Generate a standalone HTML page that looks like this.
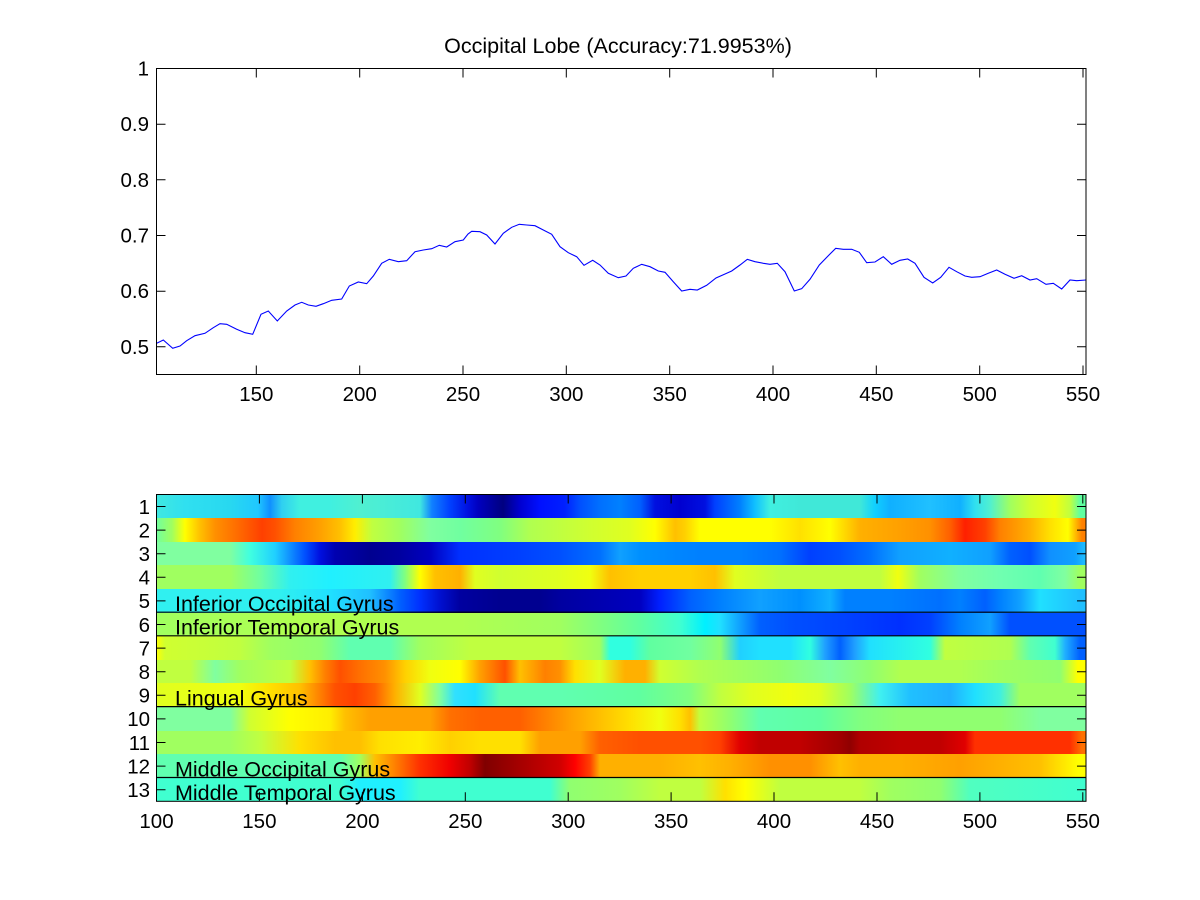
<!DOCTYPE html>
<html>
<head>
<meta charset="utf-8">
<style>
html,body{margin:0;padding:0;background:#fff;}
#wrap{position:relative;width:1200px;height:900px;overflow:hidden;background:#fff;}
#hm{position:absolute;left:156.5px;top:494.5px;width:929.5px;height:306.8px;overflow:hidden;}
#hm div{position:absolute;left:-156.5px;width:1200px;height:23.8px;}
svg{position:absolute;left:0;top:0;}
text{font-family:"Liberation Sans",Arial,sans-serif;fill:#000;}
</style>
</head>
<body>
<div id="wrap">
<div id="hm">
<div style="top:0px;background:linear-gradient(to right,#40e8e0 156px,#30e0f0 185px,#28d8f0 230px,#20c8ff 258px,#1090ff 270px,#30d0f0 282px,#40f0e0 300px,#40f0e0 330px,#50f0d0 360px,#40e8e0 420px,#1080ff 432px,#0040ff 450px,#0010e0 468px,#0000c0 478px,#000080 503px,#0000d0 520px,#0010ff 540px,#0020ff 565px,#0050ff 580px,#0070ff 600px,#0080ff 620px,#0060ff 640px,#0010e0 655px,#0000d0 680px,#0010e0 705px,#0040ff 715px,#0080ff 740px,#10c0ff 755px,#40f0e0 770px,#40e8d8 800px,#40e8d8 860px,#10d0ff 875px,#10b0ff 890px,#20c0ff 930px,#10b0ff 960px,#30e0f0 975px,#50f0d0 990px,#a0ff60 1010px,#d0ff30 1030px,#f0ff10 1055px,#c0ff40 1070px,#60ffa0 1080px)"></div>
<div style="top:23.6px;background:linear-gradient(to right,#70ffa0 156px,#a0ff60 172px,#ffff00 185px,#ffc000 200px,#ff9000 215px,#ff7000 235px,#ff4000 262px,#ff5000 275px,#ff8000 295px,#ffa000 320px,#ffc000 340px,#ffee00 355px,#c0ff40 372px,#a0ff60 400px,#80ffa0 430px,#70ffa0 460px,#80ff80 500px,#b0ff50 530px,#c0ff40 560px,#d0ff30 590px,#e0ff20 630px,#ffff00 655px,#ffc000 675px,#ffd000 685px,#ffff00 700px,#ffff00 770px,#ffe000 800px,#ffff00 830px,#ffb000 860px,#ffa000 900px,#ff9000 930px,#ff6000 950px,#ff2000 965px,#ff4000 985px,#ff8000 1000px,#ffb000 1030px,#ffe000 1050px,#ffff00 1068px,#ff8000 1082px)"></div>
<div style="top:47.2px;background:linear-gradient(to right,#80ffa0 156px,#80ffa0 230px,#40ffe0 250px,#20d0ff 275px,#1090ff 290px,#0050ff 305px,#0010e0 320px,#0000b0 335px,#000090 370px,#0000a0 400px,#0000c0 430px,#0030ff 460px,#0040ff 520px,#0050ff 560px,#0070ff 600px,#10a0ff 620px,#0090ff 640px,#0080ff 700px,#0080ff 740px,#0070ff 780px,#0040ff 810px,#0050ff 840px,#0070ff 870px,#10a0ff 900px,#10b0ff 950px,#10a0ff 990px,#0060ff 1010px,#0050ff 1030px,#1090ff 1050px,#10a0ff 1075px,#20c0ff 1086px)"></div>
<div style="top:70.8px;background:linear-gradient(to right,#a0ff60 156px,#a0ff60 230px,#70ffa0 260px,#30f0f0 290px,#20f0ff 330px,#30f0f0 390px,#80ff80 405px,#ffff00 420px,#ffc000 435px,#ffb000 460px,#e0ff20 475px,#d0ff30 500px,#e0ff20 560px,#f0ff10 590px,#ffc000 610px,#ffd000 640px,#ffd000 690px,#ffc000 715px,#e0ff20 735px,#c0ff40 780px,#c0ff40 880px,#f0ff10 898px,#a0ff60 920px,#80ffa0 960px,#70ffb0 1000px,#60ffb0 1040px,#80ffa0 1065px,#a0ff60 1080px)"></div>
<div style="top:94.4px;background:linear-gradient(to right,#30f0f0 156px,#30f0f0 280px,#20e0ff 330px,#20c0ff 370px,#1090ff 385px,#0060ff 400px,#0030ff 420px,#0010d0 440px,#0000a0 460px,#000090 500px,#000090 540px,#0000a0 560px,#0000b0 600px,#0000c0 640px,#0020ff 660px,#0060ff 690px,#0080ff 720px,#10a0ff 760px,#0090ff 800px,#10b0ff 830px,#0080ff 845px,#0080ff 890px,#0070ff 940px,#0080ff 960px,#0060ff 985px,#0080ff 1000px,#10a0ff 1020px,#20e0ff 1040px,#20d0ff 1060px,#20c0ff 1080px)"></div>
<div style="top:118px;background:linear-gradient(to right,#a0ff60 156px,#b0ff50 300px,#b0ff50 460px,#a0ff60 560px,#80ff80 600px,#60ffa0 640px,#40ffd0 680px,#00f0ff 705px,#20e0ff 720px,#10a0ff 740px,#0060ff 760px,#0050ff 790px,#0040ff 850px,#0030ff 900px,#0040ff 930px,#0080ff 960px,#10a0ff 990px,#0050ff 1010px,#0050ff 1086px)"></div>
<div style="top:141.6px;background:linear-gradient(to right,#ffff00 156px,#d0ff30 165px,#c0ff40 240px,#a0ff60 270px,#90ff70 320px,#60ffb0 350px,#60ffb0 390px,#a0ff60 420px,#c0ff40 470px,#c0ff40 560px,#a0ff60 600px,#30ffe0 610px,#30ffe0 630px,#60ffa0 650px,#70ffa0 690px,#90ff70 720px,#20d0ff 740px,#20e0ff 760px,#20e0ff 790px,#30ffe0 810px,#20a0ff 825px,#0060ff 840px,#20a0ff 855px,#20e0ff 870px,#30ffe0 930px,#c0ff40 945px,#b0ff50 1010px,#60ffb0 1030px,#40ffd0 1055px,#20b0ff 1065px,#0060ff 1080px)"></div>
<div style="top:165.2px;background:linear-gradient(to right,#c0ff40 156px,#c0ff40 190px,#80ffa0 215px,#a0ff60 240px,#c0ff40 290px,#ffc000 310px,#ff8000 325px,#ff5000 340px,#ff7000 360px,#ff9000 385px,#ffd000 405px,#f0ff10 430px,#ffff00 460px,#ffa000 480px,#ff7000 495px,#ff5000 505px,#ffc000 520px,#ff8000 545px,#ff9000 560px,#ffe000 575px,#e0ff20 600px,#ffb000 625px,#ffb000 645px,#d0ff30 660px,#b0ff50 700px,#a0ff60 740px,#90ff70 780px,#80ffa0 830px,#90ff70 870px,#b0ff50 900px,#b0ff50 960px,#a0ff60 1000px,#90ff70 1060px,#ffff00 1078px)"></div>
<div style="top:188.8px;background:linear-gradient(to right,#e0ff20 156px,#f0ff10 240px,#ffe000 270px,#ffc000 300px,#ff9000 315px,#ff5000 335px,#ff4000 355px,#ff6000 375px,#ffb000 395px,#e0ff20 420px,#80ffa0 440px,#30e0ff 455px,#20e0ff 475px,#60ffb0 500px,#60ffb0 560px,#60ffa0 640px,#80ff80 690px,#c0ff40 720px,#e0ff20 750px,#f0ff10 790px,#e0ff20 820px,#a0ff60 850px,#40f0f0 880px,#20c0ff 910px,#20b0ff 950px,#20e0ff 975px,#40f0e0 1000px,#a0ff60 1020px,#a0ff60 1086px)"></div>
<div style="top:212.4px;background:linear-gradient(to right,#80ffa0 156px,#80ffa0 230px,#d0ff30 250px,#ffff00 290px,#ffee00 330px,#ffc000 345px,#ffa000 370px,#ffa000 430px,#ff7000 450px,#ff6000 480px,#ff6000 520px,#ff8000 545px,#ffa000 570px,#ffc000 600px,#ffe000 630px,#f0ff10 660px,#ffe000 680px,#ffc000 690px,#c0ff40 700px,#90ff70 730px,#60ffb0 760px,#60ffa0 820px,#80ff80 860px,#90ff70 900px,#90ff70 1000px,#80ffa0 1040px,#80ffa0 1086px)"></div>
<div style="top:236px;background:linear-gradient(to right,#a0ff60 156px,#a0ff60 230px,#c0ff40 260px,#ffe000 300px,#ffc000 335px,#ffc000 360px,#ffe000 380px,#ffee00 420px,#ffd000 450px,#ffe000 480px,#ffe000 520px,#ffa000 540px,#ffa000 580px,#ff6000 600px,#ff5000 640px,#ff5000 700px,#ff4000 720px,#e00000 740px,#c00000 760px,#c00000 800px,#a00000 840px,#900000 850px,#b00000 860px,#c00000 900px,#c00000 940px,#e00000 965px,#ff3000 975px,#ff3000 1070px,#ff7000 1082px)"></div>
<div style="top:259.6px;background:linear-gradient(to right,#60ffb0 156px,#60ffb0 340px,#a0ff60 360px,#ffc000 375px,#ff8000 395px,#ff3000 420px,#f00000 450px,#c00000 470px,#800000 485px,#900000 500px,#b00000 530px,#d00000 560px,#ff0000 575px,#ff4000 590px,#ffb000 600px,#ffb000 660px,#ffc000 700px,#ffb000 730px,#ff9000 770px,#ff9000 810px,#ffc000 840px,#ffb000 860px,#ffb000 900px,#ffa000 960px,#ffb000 1000px,#ffc000 1040px,#ffff00 1078px)"></div>
<div style="top:283.2px;background:linear-gradient(to right,#40ffd0 156px,#40ffd0 340px,#20f0ff 360px,#20f0ff 400px,#40ffd0 420px,#40ffd0 550px,#90ff70 570px,#a0ff60 620px,#c0ff40 660px,#c0ff40 700px,#ffe000 725px,#ffff00 745px,#c0ff40 780px,#c0ff40 860px,#a0ff60 890px,#90ff70 940px,#50ffc0 970px,#40ffd0 1086px)"></div>
</div>

<svg width="1200" height="900" viewBox="0 0 1200 900" xmlns="http://www.w3.org/2000/svg">
<text x="618" y="53" font-size="21.5" text-anchor="middle">Occipital Lobe (Accuracy:71.9953%)</text>
<polyline fill="none" stroke="#0000ff" stroke-width="1.1" points="156.7,343.3 163.3,340 172.7,348.3 180,346 186.7,340.7 195,335.7 205,333.3 213.3,327.7 220,323.7 226.7,324.3 236.7,329.3 245,332.7 252.7,334.3 261,314.3 268.3,311 277.3,321 286.7,311 295,305 301.7,302.3 308.3,305 316,306.3 323.3,303.7 331.7,300.3 341.7,299 349.3,286 358.3,282 366.7,283.7 373.3,276 381.7,263.3 389.3,259.3 398.3,261.7 406.7,260.7 415,251.7 423.3,250 431.7,248.7 439.3,245.3 446.7,247 455,241.7 463.3,240 468,234 471.7,231.3 480,231.7 486.7,235 495,244 503.3,233.3 511.7,227.3 519.3,224.3 526.7,225 535,225.7 543.3,230 551.7,234.3 560,246.7 568.3,252.7 576.7,256.7 584,265.3 592.7,260.3 600,265 608.3,273.3 618.3,277.7 626,276 633.3,268.3 641.7,264.3 650,266.7 658.3,271 665,272.3 673.3,281.7 681.7,291 690,289.3 697.3,290 706.7,285.3 716,278 725,274 731.7,271 740,265 747.3,259.3 755,261.7 763.3,263.3 770,264.3 777.3,263.3 785,271.7 794.3,291 801.7,288.7 810,279.3 819.3,265 827.3,256.7 835.7,248.3 843.3,249.3 851.7,249.3 859.3,252.3 866.7,262.7 875,262 883.3,256.7 891.7,264.3 900,260.3 907.7,259 915,263.3 924,277.3 932.7,283 940.7,277.3 949,267.3 956.7,271.7 965,276 971.7,277.3 980,276.7 988.3,273.3 996.7,270 1005,274.3 1014,278.3 1021.7,275.7 1030,280 1036.7,278.7 1046,284.3 1053.3,283.3 1061.7,289 1070,280 1076.7,280.7 1086,280"/>
<rect x="156.5" y="68.5" width="929.5" height="306" fill="none" stroke="#000" stroke-width="1"/>
<g stroke="#000" stroke-width="1">
<path d="M156.5,68.5h9M156.5,124.2h9M156.5,179.8h9M156.5,235.5h9M156.5,291.2h9M156.5,346.8h9"/>
<path d="M1086,68.5h-9M1086,124.2h-9M1086,179.8h-9M1086,235.5h-9M1086,291.2h-9M1086,346.8h-9"/>
<path d="M256.3,374.5v-9M359.7,374.5v-9M463,374.5v-9M566.3,374.5v-9M669.7,374.5v-9M773,374.5v-9M876.3,374.5v-9M979.7,374.5v-9M1083,374.5v-9"/>
<path d="M256.3,68.5v9M359.7,68.5v9M463,68.5v9M566.3,68.5v9M669.7,68.5v9M773,68.5v9M876.3,68.5v9M979.7,68.5v9M1083,68.5v9"/>
</g>
<g font-size="20.5" text-anchor="end">
<text x="149" y="75.5">1</text>
<text x="149" y="131.2">0.9</text>
<text x="149" y="186.8">0.8</text>
<text x="149" y="242.5">0.7</text>
<text x="149" y="298.2">0.6</text>
<text x="149" y="353.8">0.5</text>
</g>
<g font-size="20.5" text-anchor="middle">
<text x="256.3" y="401">150</text>
<text x="359.7" y="401">200</text>
<text x="463" y="401">250</text>
<text x="566.3" y="401">300</text>
<text x="669.7" y="401">350</text>
<text x="773" y="401">400</text>
<text x="876.3" y="401">450</text>
<text x="979.7" y="401">500</text>
<text x="1083" y="401">550</text>
</g>

<g stroke="#000" stroke-width="1.2">
<path d="M156.5,612.2H1086M156.5,635.8H1086M156.5,706.6H1086M156.5,777.5H1086"/>
</g>
<rect x="156.5" y="494.5" width="929.5" height="306.8" fill="none" stroke="#000" stroke-width="1"/>
<g stroke="#000" stroke-width="1">
<path d="M156.5,506.5h9M156.5,530.1h9M156.5,553.7h9M156.5,577.3h9M156.5,600.9h9M156.5,624.5h9M156.5,648.1h9M156.5,671.7h9M156.5,695.3h9M156.5,718.9h9M156.5,742.5h9M156.5,766.1h9M156.5,789.7h9"/>
<path d="M1086,506.5h-9M1086,530.1h-9M1086,553.7h-9M1086,577.3h-9M1086,600.9h-9M1086,624.5h-9M1086,648.1h-9M1086,671.7h-9M1086,695.3h-9M1086,718.9h-9M1086,742.5h-9M1086,766.1h-9M1086,789.7h-9"/>
<path d="M259.4,801.3v-9M362.4,801.3v-9M465.3,801.3v-9M568.2,801.3v-9M671.1,801.3v-9M774,801.3v-9M877,801.3v-9M979.9,801.3v-9M1082.8,801.3v-9"/>
<path d="M259.4,494.5v9M362.4,494.5v9M465.3,494.5v9M568.2,494.5v9M671.1,494.5v9M774,494.5v9M877,494.5v9M979.9,494.5v9M1082.8,494.5v9"/>
</g>
<g font-size="21.5">
<text x="175" y="611">Inferior Occipital Gyrus</text>
<text x="175" y="634.5">Inferior Temporal Gyrus</text>
<text x="175" y="705.5">Lingual Gyrus</text>
<text x="175" y="776.5">Middle Occipital Gyrus</text>
<text x="175" y="799.8">Middle Temporal Gyrus</text>
</g>
<g font-size="20.5" text-anchor="end">
<text x="150" y="513.8">1</text>
<text x="150" y="537.4">2</text>
<text x="150" y="561">3</text>
<text x="150" y="584.6">4</text>
<text x="150" y="608.2">5</text>
<text x="150" y="631.8">6</text>
<text x="150" y="655.4">7</text>
<text x="150" y="679">8</text>
<text x="150" y="702.6">9</text>
<text x="150" y="726.2">10</text>
<text x="150" y="749.8">11</text>
<text x="150" y="773.4">12</text>
<text x="150" y="797">13</text>
</g>
<g font-size="20.5" text-anchor="middle">
<text x="156.5" y="828">100</text>
<text x="259.4" y="828">150</text>
<text x="362.4" y="828">200</text>
<text x="465.3" y="828">250</text>
<text x="568.2" y="828">300</text>
<text x="671.1" y="828">350</text>
<text x="774" y="828">400</text>
<text x="877" y="828">450</text>
<text x="979.9" y="828">500</text>
<text x="1082.8" y="828">550</text>
</g>
</svg>
</div>
</body>
</html>
